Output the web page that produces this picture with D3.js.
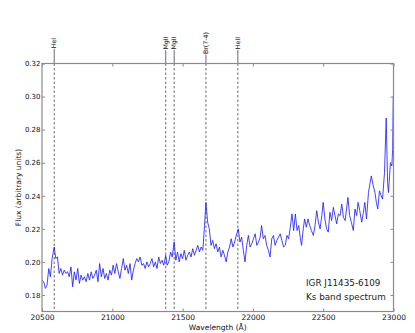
<!DOCTYPE html>
<html>
<head>
<meta charset="utf-8">
<script src="https://cdn.jsdelivr.net/npm/d3@7"></script>
<style>
  body { margin: 0; background: #fff; }
  svg text { font-family: "DejaVu Sans", sans-serif; }
</style>
</head>
<body>
<div id="chart"></div>
<script>
// spectrum: [wavelength (A), flux]
const spectrum = [
  [20500, 0.189], [20512, 0.188], [20524, 0.184], [20536, 0.186], [20548, 0.196],
  [20560, 0.191], [20572, 0.202], [20587, 0.209], [20598, 0.202], [20610, 0.203],
  [20622, 0.193], [20634, 0.196], [20646, 0.192], [20658, 0.195], [20670, 0.193],
  [20682, 0.194], [20694, 0.191], [20706, 0.197], [20718, 0.185], [20730, 0.194],
  [20742, 0.189], [20754, 0.196], [20766, 0.187], [20778, 0.192], [20790, 0.189],
  [20802, 0.191], [20814, 0.188], [20826, 0.193], [20838, 0.189], [20850, 0.194],
  [20862, 0.190], [20874, 0.192], [20886, 0.195], [20898, 0.188], [20910, 0.199],
  [20922, 0.191], [20934, 0.196], [20946, 0.190], [20958, 0.193], [20970, 0.189],
  [20982, 0.195], [20994, 0.192], [21006, 0.198], [21018, 0.193], [21030, 0.199],
  [21042, 0.194], [21054, 0.190], [21066, 0.196], [21078, 0.202], [21090, 0.195],
  [21102, 0.198], [21114, 0.193], [21126, 0.199], [21138, 0.189], [21150, 0.195],
  [21162, 0.199], [21174, 0.202], [21186, 0.200], [21198, 0.203], [21210, 0.198],
  [21222, 0.199], [21234, 0.196], [21246, 0.200], [21258, 0.197], [21270, 0.199],
  [21282, 0.202], [21294, 0.197], [21306, 0.200], [21318, 0.196], [21330, 0.203],
  [21342, 0.199], [21354, 0.201], [21366, 0.198], [21380, 0.204], [21390, 0.198],
  [21402, 0.200], [21414, 0.206], [21426, 0.203], [21440, 0.212], [21452, 0.201],
  [21464, 0.206], [21476, 0.200], [21488, 0.205], [21500, 0.202], [21512, 0.207],
  [21524, 0.201], [21536, 0.204], [21548, 0.206], [21560, 0.203], [21572, 0.208],
  [21584, 0.204], [21596, 0.207], [21608, 0.210], [21620, 0.206], [21632, 0.209],
  [21644, 0.207], [21656, 0.222], [21666, 0.236], [21678, 0.224], [21690, 0.220],
  [21702, 0.210], [21714, 0.213], [21726, 0.208], [21738, 0.211], [21750, 0.206],
  [21762, 0.209], [21774, 0.203], [21786, 0.207], [21798, 0.204], [21810, 0.200],
  [21822, 0.206], [21834, 0.209], [21846, 0.214], [21858, 0.209], [21870, 0.212],
  [21882, 0.216], [21896, 0.220], [21908, 0.212], [21920, 0.215], [21932, 0.207],
  [21944, 0.200], [21956, 0.210], [21968, 0.216], [21980, 0.209], [21992, 0.211],
  [22004, 0.214], [22016, 0.217], [22028, 0.210], [22040, 0.212], [22052, 0.215],
  [22062, 0.222], [22074, 0.214], [22086, 0.216], [22098, 0.210], [22110, 0.207],
  [22122, 0.203], [22134, 0.214], [22146, 0.216], [22158, 0.210], [22170, 0.213],
  [22182, 0.215], [22194, 0.217], [22206, 0.213], [22218, 0.209], [22230, 0.210],
  [22242, 0.216], [22254, 0.214], [22266, 0.221], [22278, 0.229], [22290, 0.219],
  [22302, 0.229], [22314, 0.219], [22326, 0.222], [22338, 0.214], [22346, 0.210],
  [22358, 0.220], [22368, 0.226], [22380, 0.221], [22392, 0.226], [22404, 0.222],
  [22416, 0.219], [22430, 0.216], [22442, 0.222], [22454, 0.231], [22466, 0.224],
  [22478, 0.220], [22490, 0.228], [22500, 0.236], [22512, 0.226], [22524, 0.220],
  [22536, 0.218], [22548, 0.230], [22560, 0.225], [22572, 0.233], [22584, 0.228],
  [22596, 0.223], [22608, 0.229], [22620, 0.228], [22632, 0.235], [22644, 0.227],
  [22656, 0.225], [22666, 0.232], [22676, 0.239], [22688, 0.228], [22700, 0.224],
  [22714, 0.219], [22726, 0.232], [22738, 0.228], [22748, 0.236], [22760, 0.231],
  [22774, 0.224], [22786, 0.230], [22796, 0.236], [22808, 0.226], [22822, 0.242],
  [22834, 0.248], [22842, 0.252], [22856, 0.246], [22868, 0.242], [22878, 0.236],
  [22888, 0.232], [22900, 0.243], [22912, 0.240], [22922, 0.238], [22936, 0.254],
  [22948, 0.287], [22958, 0.248], [22964, 0.242], [22972, 0.252], [22978, 0.260],
  [22988, 0.258], [22994, 0.268], [22998, 0.300]
];

// spectral line markers
const lineNames = ["HeI", "MgII", "MgII", "Br(7-4)", "HeII"];
const lineWaves = [20587, 21380, 21440, 21666, 21893];

const xTicks = [20500, 21000, 21500, 22000, 22500, 23000];
const yTicks = [0.18, 0.20, 0.22, 0.24, 0.26, 0.28, 0.30, 0.32];
const noteLines = ["IGR J11435-6109", "Ks band spectrum"];

const W = 415, H = 333;
const margin = { top: 63.5, right: 21.5, bottom: 21.5, left: 42 };

const svg = d3.select("#chart").append("svg")
  .attr("width", W).attr("height", H);

const x = d3.scaleLinear().domain([20500, 23000]).range([margin.left, W - margin.right]);
const y = d3.scaleLinear().domain([0.17, 0.32]).range([H - margin.bottom, margin.top]);

const frameColor = "#8a8a8a";
const labelMid = 43;

// spectral line markers (dashed inside, solid stub above)
const mk = svg.append("g");
lineWaves.forEach((w, i) => {
  mk.append("line")
    .attr("x1", x(w)).attr("x2", x(w))
    .attr("y1", y(0.32)).attr("y2", y(0.17))
    .attr("stroke", "#444").attr("stroke-width", 0.8)
    .attr("stroke-dasharray", "2.5,2");
  const t = mk.append("text")
    .attr("transform", `translate(${x(w)},${labelMid}) rotate(-90)`)
    .attr("text-anchor", "middle")
    .attr("dy", "0.35em")
    .attr("font-size", 6.3)
    .attr("fill", "#111")
    .text(lineNames[i]);
  const half = t.node().getComputedTextLength() / 2;
  mk.append("line")
    .attr("x1", x(w)).attr("x2", x(w))
    .attr("y1", labelMid + half + 0.5).attr("y2", y(0.32))
    .attr("stroke", "#444").attr("stroke-width", 0.8);
});

// spectrum line
const line = d3.line().x(d => x(d[0])).y(d => y(d[1]));
svg.append("path")
  .datum(spectrum)
  .attr("fill", "none")
  .attr("stroke", "#2222ff")
  .attr("stroke-width", 0.85)
  .attr("stroke-linejoin", "round")
  .attr("d", line);

// axes (ticks pointing inward)
const fmtY = d3.format(".2f");
svg.append("g")
  .attr("transform", `translate(0,${y(0.17)})`)
  .call(d3.axisBottom(x).tickValues(xTicks).tickSizeInner(-3).tickSizeOuter(0).tickPadding(3).tickFormat(d3.format("d")))
  .call(g => g.select(".domain").remove())
  .call(g => g.selectAll("line").attr("stroke", frameColor))
  .call(g => g.selectAll("text").attr("font-size", 7.5).attr("fill", "#111"));

svg.append("g")
  .attr("transform", `translate(0,${y(0.32)})`)
  .call(d3.axisTop(x).tickValues(xTicks).tickSizeInner(-3).tickSizeOuter(0).tickFormat(""))
  .call(g => g.select(".domain").remove())
  .call(g => g.selectAll("line").attr("stroke", frameColor));

svg.append("g")
  .attr("transform", `translate(${x(20500)},0)`)
  .call(d3.axisLeft(y).tickValues(yTicks).tickSizeInner(-3).tickSizeOuter(0).tickPadding(1.5).tickFormat(fmtY))
  .call(g => g.select(".domain").remove())
  .call(g => g.selectAll("line").attr("stroke", frameColor))
  .call(g => g.selectAll("text").attr("font-size", 7).attr("fill", "#111"));

svg.append("g")
  .attr("transform", `translate(${x(23000)},0)`)
  .call(d3.axisRight(y).tickValues(yTicks).tickSizeInner(-3).tickSizeOuter(0).tickFormat(""))
  .call(g => g.select(".domain").remove())
  .call(g => g.selectAll("line").attr("stroke", frameColor));

// frame
svg.append("rect")
  .attr("x", x(20500)).attr("y", y(0.32))
  .attr("width", x(23000) - x(20500)).attr("height", y(0.17) - y(0.32))
  .attr("fill", "none").attr("stroke", frameColor).attr("stroke-width", 1.2);

// axis titles
svg.append("text")
  .attr("x", (x(20500) + x(23000)) / 2).attr("y", 329.5)
  .attr("text-anchor", "middle").attr("font-size", 7.5).attr("fill", "#111")
  .text("Wavelength (Å)");

svg.append("text")
  .attr("transform", `translate(21,${(y(0.17) + y(0.32)) / 2}) rotate(-90)`)
  .attr("text-anchor", "middle").attr("font-size", 7.5).attr("fill", "#111")
  .text("Flux (arbitrary units)");

// annotation
svg.append("g").selectAll("text")
  .data(noteLines)
  .join("text")
  .attr("x", 306).attr("y", (d, i) => 285.5 + i * 14)
  .attr("font-family", "Open Sans, sans-serif")
  .attr("font-size", 8.8).attr("fill", "#222")
  .text(d => d);
</script>
</body>
</html>
